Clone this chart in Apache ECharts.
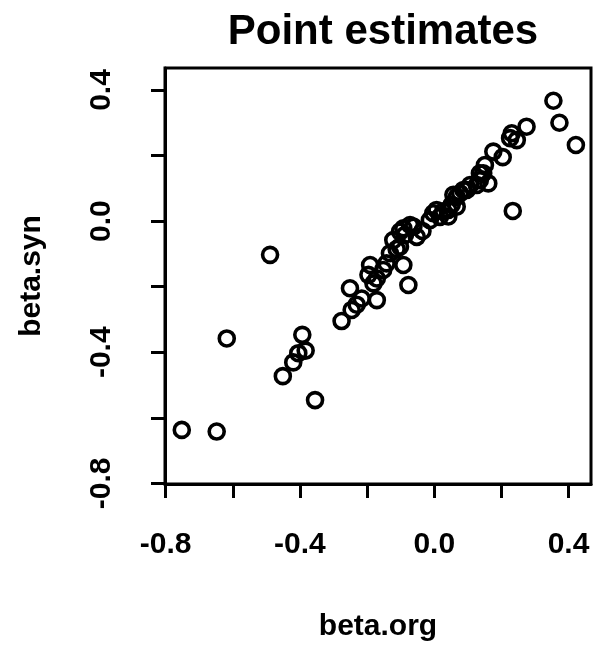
<!DOCTYPE html>
<html>
<head>
<meta charset="utf-8">
<script src="https://cdn.jsdelivr.net/npm/echarts@6/dist/echarts.min.js"></script>
<style>
html,body{margin:0;padding:0;background:#fff;}
#chart{width:598px;height:649px;}
</style>
</head>
<body>
<div id="chart"></div>
<script>
var chartTitle = "Point estimates";
var xName = "beta.org";
var yName = "beta.syn";
var tickValues = [-0.8, -0.6, -0.4, -0.2, 0.0, 0.2, 0.4];
var labelValues = [-0.8, -0.4, 0.0, 0.4];
var axisMin = -0.802;
var axisMax = 0.467;

var betaOrg = [
  -0.752, -0.648, -0.618, -0.489, -0.451, -0.420, -0.405, -0.383, -0.393, -0.355,
  -0.276, -0.246, -0.251, -0.216, -0.231, -0.171, -0.196, -0.191, -0.171, -0.181,
  -0.152, -0.142, -0.132, -0.092, -0.077, -0.102, -0.122, -0.112, -0.092, -0.087,
  -0.102, -0.072, -0.052, -0.062, -0.035, -0.013, -0.003, 0.017, 0.007, 0.027,
  0.042, 0.042, 0.052, 0.067, 0.067, 0.057, 0.077, 0.087, 0.097, 0.107,
  0.127, 0.136, 0.161, 0.136, 0.146, 0.151, 0.176, 0.204, 0.226, 0.231,
  0.246, 0.275, 0.234, 0.355, 0.373, 0.422
];
var betaSyn = [
  -0.637, -0.642, -0.358, -0.103, -0.473, -0.431, -0.403, -0.395, -0.347, -0.546,
  -0.305, -0.271, -0.205, -0.236, -0.255, -0.241, -0.164, -0.134, -0.175, -0.190,
  -0.149, -0.129, -0.098, -0.134, -0.195, -0.078, -0.058, -0.085, -0.022, -0.042,
  -0.032, -0.012, -0.048, -0.017, -0.030, 0.003, 0.024, 0.013, 0.034, 0.030,
  0.034, 0.014, 0.050, 0.044, 0.074, 0.080, 0.085, 0.095, 0.095, 0.110,
  0.110, 0.125, 0.115, 0.146, 0.146, 0.171, 0.212, 0.195, 0.253, 0.268,
  0.247, 0.288, 0.031, 0.367, 0.300, 0.232
];

var points = betaOrg.map(function (v, i) { return [v, betaSyn[i]]; });

function fmt(v) { return v.toFixed(1); }

var fontFam = "'Liberation Sans', Arial, sans-serif";

function makeAxis(name, isY) {
  return {
    type: 'value',
    min: axisMin,
    max: axisMax,
    position: isY ? 'left' : 'bottom',
    name: name,
    nameLocation: 'middle',
    nameGap: isY ? 118 : 128,
    nameTextStyle: { fontFamily: fontFam, fontSize: 30, fontWeight: 'bold', color: '#000' },
    axisLine: { show: true, onZero: false, lineStyle: { color: '#000', width: 3 } },
    splitLine: { show: false },
    axisTick: {
      show: true,
      inside: false,
      length: 14,
      customValues: tickValues,
      lineStyle: { color: '#000', width: 3 }
    },
    axisLabel: {
      show: true,
      customValues: labelValues,
      formatter: fmt,
      margin: isY ? 48 : 46,
      rotate: isY ? 90 : 0,
      fontFamily: fontFam,
      fontSize: 30,
      fontWeight: 'bold',
      color: '#000'
    }
  };
}

var chart = echarts.init(document.getElementById('chart'), null, { renderer: 'canvas' });
chart.setOption({
  animation: false,
  backgroundColor: '#fff',
  title: {
    text: chartTitle,
    left: 378,
    textAlign: 'center',
    top: 6,
    textStyle: { fontFamily: fontFam, fontSize: 42, fontWeight: 'bold', color: '#000' }
  },
  grid: {
    left: 165, top: 68, width: 426, height: 416,
    show: true, borderColor: '#000', borderWidth: 3, backgroundColor: 'transparent'
  },
  xAxis: makeAxis(xName, false),
  yAxis: makeAxis(yName, true),
  series: [{
    type: 'scatter',
    data: points,
    symbol: 'circle',
    symbolSize: 15,
    clip: false,
    itemStyle: { color: 'rgba(0,0,0,0)', borderColor: '#000', borderWidth: 3.6, opacity: 1 }
  }]
});
</script>
</body>
</html>
